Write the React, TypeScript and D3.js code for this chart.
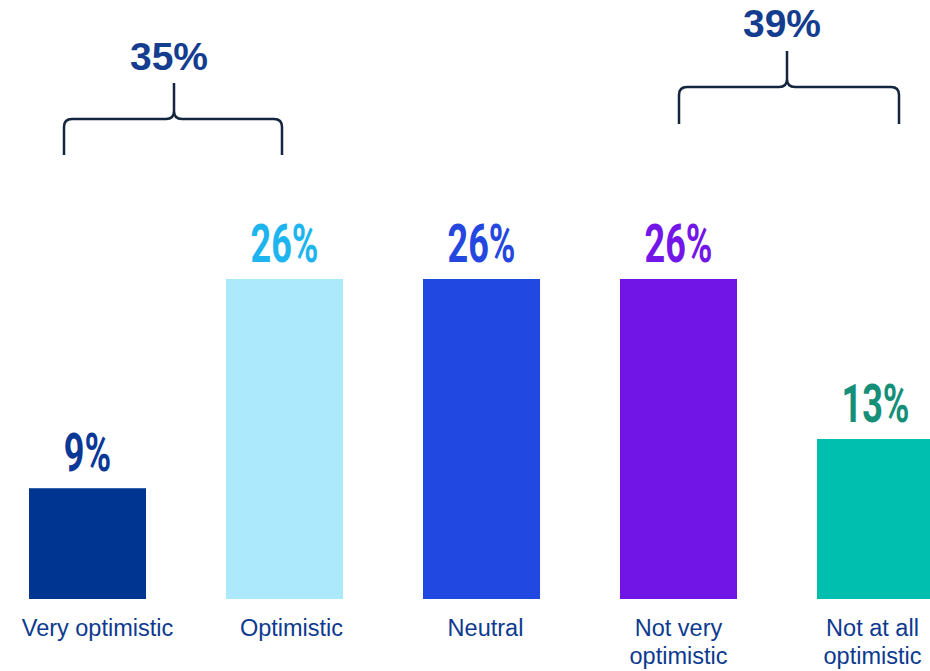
import React from "react";
import * as d3 from "d3";

const categories = ["Very optimistic", "Optimistic", "Neutral", "Not very optimistic", "Not at all optimistic"];
const categoryLines = [["Very optimistic"], ["Optimistic"], ["Neutral"], ["Not very", "optimistic"], ["Not at all", "optimistic"]];
const values = [9, 26, 26, 26, 13];
const barColors = ["#003591", "#ade9fd", "#2149e1", "#7115e6", "#00bfae"];
const labelColors = ["#0a3896", "#1eb5ef", "#2447e0", "#7317e8", "#168f78"];
const groupLabels = ["35%", "39%"];

const W = 930, H = 671;

export default function App() {
  const x = d3.scaleBand<string>().domain(categories).range([29, 934]).paddingInner(0.406).paddingOuter(0);
  const y = d3.scaleLinear().domain([0, 26]).range([599, 279]);
  const bw = x.bandwidth();

  const braces = [
    { x1: 64, x2: 282, yH: 119, yEnd: 155, yTip: 83, cx: 174, textY: 70 },
    { x1: 679, x2: 899, yH: 87, yEnd: 124, yTip: 51, cx: 787, textY: 37 },
  ];

  const bracePath = (b: typeof braces[0]) => {
    const r = 8;
    return [
      `M${b.x1},${b.yEnd}`,
      `L${b.x1},${b.yH + r}`,
      `Q${b.x1},${b.yH} ${b.x1 + r},${b.yH}`,
      `L${b.cx - r},${b.yH}`,
      `Q${b.cx},${b.yH} ${b.cx},${b.yH - r}`,
      `L${b.cx},${b.yTip}`,
      `M${b.cx},${b.yH - r}`,
      `Q${b.cx},${b.yH} ${b.cx + r},${b.yH}`,
      `L${b.x2 - r},${b.yH}`,
      `Q${b.x2},${b.yH} ${b.x2},${b.yH + r}`,
      `L${b.x2},${b.yEnd}`,
    ].join(" ");
  };

  const offsets = [10, 7, 4, 0, -3];

  return (
    <svg width={W} height={H} style={{ position: "absolute", left: 0, top: 0, background: "#fff" }}>
      {categories.map((c, i) => {
        const bx = x(c)!;
        const cx = bx + bw / 2;
        return (
          <g key={c}>
            <rect x={bx} y={y(values[i])} width={bw} height={y(0) - y(values[i])} fill={barColors[i]} />
            <text
              transform={`translate(${cx},${y(values[i]) - 17}) scale(0.68,1)`}
              textAnchor="middle"
              fontFamily="Roboto, sans-serif"
              fontWeight={700}
              fontSize={53}
              fill={labelColors[i]}
            >
              {values[i]}%
            </text>
            {categoryLines[i].map((ln, j) => (
              <text
                key={j}
                x={cx + offsets[i]}
                y={636 + j * 28}
                textAnchor="middle"
                fontFamily="'Liberation Sans', Arial, sans-serif"
                fontSize={23.5}
                fill="#0d3a8f"
              >
                {ln}
              </text>
            ))}
          </g>
        );
      })}
      {braces.map((b, i) => (
        <g key={i}>
          <path d={bracePath(b)} fill="none" stroke="#14253f" strokeWidth={2.5} />
          <text
            x={b.cx - 5}
            y={b.textY}
            textAnchor="middle"
            fontFamily="'Liberation Sans', Arial, sans-serif"
            fontWeight={700}
            fontSize={39}
            fill="#153d8f"
          >
            {groupLabels[i]}
          </text>
        </g>
      ))}
    </svg>
  );
}
